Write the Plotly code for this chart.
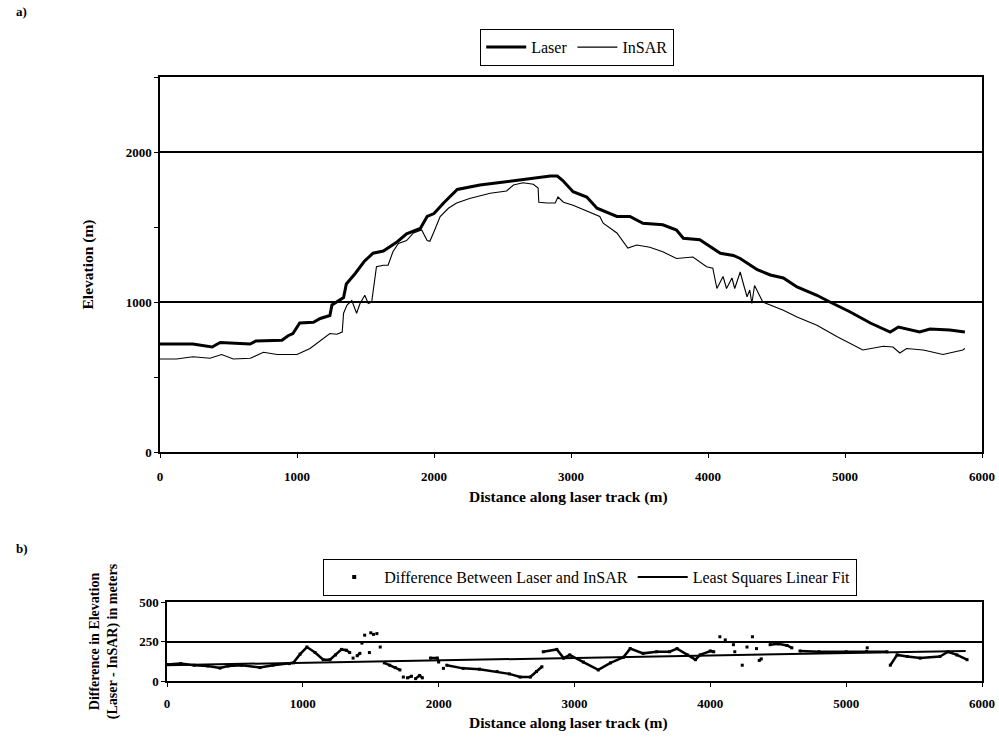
import plotly.graph_objects as go

# ---- Data ----
laser_x = [0, 240, 380, 440, 657, 700, 890, 935, 970, 1020, 1120, 1170, 1240, 1255, 1340, 1360,
           1425, 1490, 1555, 1630, 1730, 1800, 1900, 1950, 2000, 2070, 2170, 2335, 2850, 2900,
           2940, 3015, 3115, 3190, 3335, 3430, 3525, 3670, 3770, 3820, 3940, 4090, 4185, 4235,
           4310, 4360, 4455, 4550, 4650, 4795, 4890, 5035, 5185, 5330, 5390, 5460, 5545, 5620,
           5765, 5875]
laser_y = [720, 720, 700, 730, 720, 740, 745, 775, 790, 860, 865, 890, 910, 980, 1030, 1120,
           1190, 1270, 1325, 1340, 1400, 1455, 1490, 1570, 1590, 1660, 1750, 1780, 1840, 1840,
           1810, 1735, 1700, 1625, 1570, 1570, 1525, 1515, 1480, 1425, 1415, 1325, 1310, 1290,
           1245, 1215, 1180, 1160, 1100, 1045, 1000, 935, 860, 800, 833, 820, 800, 820,
           813, 800]

insar_x = [0, 120, 240, 365, 450, 535, 660, 755, 855, 1000, 1095, 1170, 1240, 1290, 1330, 1340,
           1365, 1400, 1435, 1460, 1495, 1520, 1545, 1580, 1630, 1665, 1700, 1740, 1800, 1850,
           1910, 1950, 1970, 2005, 2045, 2105, 2165, 2260, 2410, 2530, 2580, 2650, 2725, 2760,
           2765, 2825, 2885, 2905, 2945, 3015, 3090, 3210, 3235, 3335, 3415, 3480, 3575, 3670,
           3770, 3890, 3990, 4035, 4065, 4110, 4135, 4175, 4195, 4235, 4260, 4285, 4305, 4320,
           4340, 4400, 4550, 4650, 4795, 4940, 5130, 5280, 5350, 5400, 5450, 5570, 5620, 5715,
           5860, 5875]
insar_y = [620, 620, 635, 625, 650, 620, 625, 665, 650, 650, 690, 745, 790, 785, 800, 925,
           980, 1010, 925, 990, 1045, 990, 1000, 1235, 1245, 1245, 1335, 1390, 1410, 1460,
           1480, 1410, 1405, 1480, 1570, 1625, 1660, 1690, 1725, 1740, 1780, 1795, 1785, 1760,
           1665, 1660, 1660, 1700, 1665, 1645, 1615, 1570, 1525, 1460, 1360, 1380, 1365, 1335,
           1290, 1300, 1235, 1225, 1090, 1170, 1090, 1160, 1090, 1200, 1115, 1035, 1080, 990,
           1110, 1000, 945, 900, 845, 770, 680, 705, 700, 660, 690, 680, 670, 650,
           680, 690]

# Difference (Laser - InSAR); None marks gaps between runs of points
diff_x = [0, 100, 200, 300, 390, 450, 550, 685, 780, 900, 930, 980, 1030, 1090, 1150, 1200,
          1240, 1285, 1320, 1345, None,
          1370, None, 1400, 1420, None, 1435, None, 1455, None, 1490, None, 1500, None, 1520,
          None, 1545, None, 1570, None,
          1600, 1640, 1680, 1715, None, 1740, None, 1770, 1800, None, 1830, 1860, 1880, None,
          1940, 1990, 2000, None, 2035, None, 2060, 2180, 2300, 2430, 2520, 2600, 2675, 2720,
          2760, None,
          2770, 2870, 2920, 2965, 3065, 3175, 3265, 3360, 3410, 3505, 3605, 3700, 3755, 3830,
          3890, 3925, 4000, 4025, None,
          4070, None, 4110, None, 4170, None, 4180, None, 4235, None, 4270, None, 4310, None,
          4340, None, 4360, 4375, None,
          4440, 4500, 4565, 4600, None,
          4660, 4800, 5000, 5150, 5300, None, 5155, None,
          5325, 5375, 5450, 5545, 5690, 5750, 5815, 5890]
diff_y = [105, 110, 100, 95, 82, 95, 100, 85, 100, 110, 115, 170, 215, 180, 135, 135,
          165, 200, 195, 180, None,
          145, None, 160, 175, None, 240, None, 290, None, 180, None, 305, None, 295,
          None, 300, None, 215, None,
          115, 100, 85, 70, None, 25, None, 20, 30, None, 15, 35, 20, None,
          145, 145, 120, None, 80, None, 100, 80, 75, 60, 45, 25, 25, 60,
          90, None,
          185, 200, 145, 165, 120, 70, 115, 150, 205, 175, 185, 185, 205, 165,
          135, 165, 190, 185, None,
          280, None, 260, None, 230, None, 185, None, 100, None, 215, None, 280, None,
          205, None, 130, 140, None,
          230, 235, 225, 210, None,
          190, 185, 185, 187, 185, None, 210, None,
          100, 165, 155, 145, 155, 185, 165, 135]

fit_x = [0, 5880]
fit_y = [100, 190]

W, H = 999, 742
def px(x0, x1):
    return [x0 / W, x1 / W]
def py(top, bottom):
    return [(H - bottom) / H, (H - top) / H]

SERIF = "'Liberation Serif', 'Times New Roman', 'DejaVu Serif', serif"

fig = go.Figure()
fig.add_trace(go.Scatter(x=laser_x, y=laser_y, mode="lines", name="Laser",
                         line=dict(color="black", width=3), xaxis="x", yaxis="y",
                         legend="legend"))
fig.add_trace(go.Scatter(x=insar_x, y=insar_y, mode="lines", name="InSAR",
                         line=dict(color="black", width=1.1), xaxis="x", yaxis="y",
                         legend="legend"))
fig.add_trace(go.Scatter(x=diff_x, y=diff_y, mode="lines+markers", showlegend=False,
                         line=dict(color="black", width=2.5),
                         marker=dict(color="black", size=3, symbol="square"),
                         connectgaps=False, xaxis="x2", yaxis="y2"))
fig.add_trace(go.Scatter(x=[None], y=[None], mode="markers",
                         name="Difference Between Laser and InSAR",
                         marker=dict(color="black", size=4, symbol="square"),
                         xaxis="x2", yaxis="y2", legend="legend2"))
fig.add_trace(go.Scatter(x=fit_x, y=fit_y, mode="lines", name="Least Squares Linear Fit",
                         line=dict(color="black", width=2), xaxis="x2", yaxis="y2",
                         legend="legend2"))

axis_common = dict(showline=True, linecolor="black", linewidth=1.5, mirror=True,
                   ticks="outside", ticklen=4, tickcolor="black", zeroline=False,
                   automargin=False,
                   tickfont=dict(family=SERIF, size=13, color="black", weight="bold"))

XTITLE = "<b>Distance along laser track (m)</b>"

fig.update_layout(
    width=W, height=H,
    margin=dict(l=0, r=0, t=0, b=0, autoexpand=False),
    paper_bgcolor="white", plot_bgcolor="white",
    font=dict(family=SERIF, color="black"),
    xaxis=dict(domain=px(160, 982), range=[0, 6000], tickvals=[0, 1000, 2000, 3000, 4000, 5000, 6000],
               showgrid=False, anchor="y", ticklabelstandoff=8, **axis_common),
    yaxis=dict(domain=py(77, 452), range=[0, 2500], tickvals=[0, 1000, 2000],
               showgrid=True, gridcolor="black", gridwidth=1.5, anchor="x",
               minor=dict(tickvals=[500, 1500, 2500], ticks="outside", ticklen=4, tickcolor="black",
                          showgrid=False),
               title=dict(text="<b>Elevation (m)</b>", font=dict(family=SERIF, size=15.5), standoff=28),
               **axis_common),
    xaxis2=dict(domain=px(167, 982), range=[0, 6000], tickvals=[0, 1000, 2000, 3000, 4000, 5000, 6000],
                showgrid=False, anchor="y2", ticklabelstandoff=6, **axis_common),
    yaxis2=dict(domain=py(602, 681), range=[0, 500], tickvals=[0, 250, 500],
                showgrid=True, gridcolor="black", gridwidth=1.5, anchor="x2",
                title=dict(text="<b>Difference in Elevation<br>(Laser - InSAR) in meters</b>",
                           font=dict(family=SERIF, size=14), standoff=18),
                **axis_common),
    legend=dict(orientation="h", x=577 / W, xanchor="center", y=(H - 29) / H, yanchor="top",
                bordercolor="black", borderwidth=1.2, bgcolor="white",
                font=dict(family=SERIF, size=16, color="black"),
                itemwidth=40, tracegroupgap=0),
    legend2=dict(orientation="h", x=590 / W, xanchor="center", y=(H - 559) / H, yanchor="top",
                 bordercolor="black", borderwidth=1.2, bgcolor="white",
                 font=dict(family=SERIF, size=16, color="black"),
                 itemwidth=50),
    showlegend=True,
    annotations=[
        dict(text="<b>a)</b>", x=14 / W, y=(H - 12) / H, xref="paper", yref="paper",
             xanchor="left", yanchor="middle", showarrow=False, font=dict(family=SERIF, size=13)),
        dict(text="<b>b)</b>", x=14 / W, y=(H - 548) / H, xref="paper", yref="paper",
             xanchor="left", yanchor="middle", showarrow=False, font=dict(family=SERIF, size=13)),
        dict(text=XTITLE, x=568 / W, y=(H - 497) / H, xref="paper", yref="paper",
             xanchor="center", yanchor="middle", showarrow=False, font=dict(family=SERIF, size=15.5)),
        dict(text=XTITLE, x=568 / W, y=(H - 723) / H, xref="paper", yref="paper",
             xanchor="center", yanchor="middle", showarrow=False, font=dict(family=SERIF, size=15.5)),
    ],
)

fig.write_html("out.html", config={"displayModeBar": False},
               post_script="document.body.style.margin='0px';")
